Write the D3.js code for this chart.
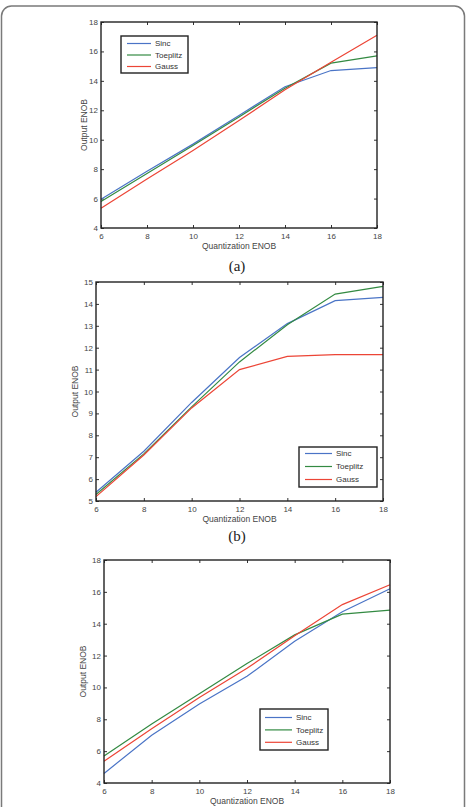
<!doctype html>
<html lang="en">
<head>
<meta charset="UTF-8">
<title>ENOB</title>
<script src="https://cdn.jsdelivr.net/npm/d3@7"></script>
<style>
  body { margin: 0; background: #fff; }
  svg { display: block; }
</style>
</head>
<body>
<script>
// shared x values
var enobIn = [6, 8, 10, 12, 14, 16, 18];
var seriesNames = ["Sinc", "Toeplitz", "Gauss"];
var colors = ["#4a74c6", "#338a42", "#ec4536"];

// panel (a)
var sincA = [5.95, 7.85, 9.7, 11.65, 13.6, 14.7, 14.9];
var toepA = [5.8, 7.7, 9.6, 11.55, 13.5, 15.2, 15.7];
var gaussA = [5.35, 7.33, 9.27, 11.3, 13.4, 15.27, 17.1];

// panel (b)
var sincB = [5.4, 7.27, 9.5, 11.55, 13.1, 14.15, 14.3];
var toepB = [5.3, 7.15, 9.3, 11.35, 13.05, 14.45, 14.8];
var gaussB = [5.2, 7.1, 9.25, 11.0, 11.6, 11.68, 11.68];

// panel (c)
var sincC = [4.6, 7.0, 8.96, 10.7, 12.9, 14.75, 16.2];
var toepC = [5.7, 7.7, 9.6, 11.5, 13.3, 14.6, 14.85];
var gaussC = [5.37, 7.4, 9.37, 11.2, 13.25, 15.2, 16.45];

var xTicks = [6, 8, 10, 12, 14, 16, 18];
var yTicksA = [4, 6, 8, 10, 12, 14, 16, 18];
var yTicksB = [5, 6, 7, 8, 9, 10, 11, 12, 13, 14, 15];
var yTicksC = [4, 6, 8, 10, 12, 14, 16, 18];

var W = 467, H = 807;
var svg = d3.select("body").append("svg").attr("width", W).attr("height", H);

// outer frame
svg.append("rect")
  .attr("x", 1.5).attr("y", 6).attr("width", 463).attr("height", 812)
  .attr("rx", 10)
  .attr("fill", "none").attr("stroke", "#7a7a7a").attr("stroke-width", 1.5);

var panels = [
  { left: 101, right: 377, top: 22, bottom: 228, ydom: [4, 18], yTicks: yTicksA,
    data: [sincA, toepA, gaussA], caption: "(a)", capY: 271, ylabX: 84,
    legend: { x: 121, y: 36, w: 67, h: 37, lineX0: 127, lineX1: 151, textX: 155, row0: 43.5, dy: 11.5 } },
  { left: 96, right: 383, top: 282, bottom: 501, ydom: [5, 15], yTicks: yTicksB,
    data: [sincB, toepB, gaussB], caption: "(b)", capY: 541, ylabX: 75,
    legend: { x: 299, y: 447, w: 78, h: 40, lineX0: 305, lineX1: 332, textX: 336, row0: 453.5, dy: 13 } },
  { left: 104, right: 390, top: 560, bottom: 783, ydom: [4, 18], yTicks: yTicksC,
    data: [sincC, toepC, gaussC], caption: null, capY: 0, ylabX: 83,
    legend: { x: 260, y: 709, w: 68, h: 41, lineX0: 265, lineX1: 292, textX: 296, row0: 717.5, dy: 12.4 } }
];

var font = "'Liberation Sans', Arial, sans-serif";
var serif = "'Liberation Serif', 'Times New Roman', serif";

panels.forEach(function(p) {
  var x = d3.scaleLinear().domain([6, 18]).range([p.left, p.right]);
  var y = d3.scaleLinear().domain(p.ydom).range([p.bottom, p.top]);
  var g = svg.append("g");

  // axes with inward ticks on all sides
  var bottomAx = d3.axisBottom(x).tickValues(xTicks).tickSizeInner(-3).tickSizeOuter(0).tickPadding(5);
  var topAx = d3.axisTop(x).tickValues(xTicks).tickSizeInner(-3).tickSizeOuter(0).tickFormat("");
  var leftAx = d3.axisLeft(y).tickValues(p.yTicks).tickSizeInner(-3).tickSizeOuter(0).tickPadding(3);
  var rightAx = d3.axisRight(y).tickValues(p.yTicks).tickSizeInner(-3).tickSizeOuter(0).tickFormat("");

  [[bottomAx, "translate(0," + p.bottom + ")"], [topAx, "translate(0," + p.top + ")"],
   [leftAx, "translate(" + p.left + ",0)"], [rightAx, "translate(" + p.right + ",0)"]].forEach(function(a) {
    var ax = g.append("g").attr("transform", a[1]).call(a[0]);
    ax.select(".domain").remove();
    ax.selectAll("line").attr("stroke", "#333").attr("stroke-width", 1);
    ax.selectAll("text").attr("fill", "#444").style("font-family", font).style("font-size", "8px");
  });

  // series lines
  var line = d3.line().x(function(d, i) { return x(enobIn[i]); }).y(function(d) { return y(d); });
  p.data.forEach(function(s, i) {
    g.append("path").datum(s)
      .attr("d", line)
      .attr("fill", "none")
      .attr("stroke", colors[i])
      .attr("stroke-width", 1.2);
  });

  // box
  g.append("rect")
    .attr("x", p.left).attr("y", p.top)
    .attr("width", p.right - p.left).attr("height", p.bottom - p.top)
    .attr("fill", "none").attr("stroke", "#222").attr("stroke-width", 1.4);

  // axis titles
  g.append("text")
    .attr("x", (p.left + p.right) / 2).attr("y", p.bottom + 21)
    .attr("text-anchor", "middle")
    .attr("fill", "#444").style("font-family", font).style("font-size", "8.5px")
    .text("Quantization ENOB");
  g.append("text")
    .attr("transform", "translate(" + p.ylabX + "," + ((p.top + p.bottom) / 2) + ") rotate(-90)")
    .attr("text-anchor", "middle").attr("dy", "0.35em")
    .attr("fill", "#444").style("font-family", font).style("font-size", "8.5px")
    .text("Output ENOB");

  // legend
  var L = p.legend;
  var lg = g.append("g");
  lg.append("rect")
    .attr("x", L.x).attr("y", L.y).attr("width", L.w).attr("height", L.h)
    .attr("fill", "#fff").attr("stroke", "#222").attr("stroke-width", 1.4);
  seriesNames.forEach(function(n, i) {
    var yy = L.row0 + i * L.dy;
    lg.append("line")
      .attr("x1", L.lineX0).attr("x2", L.lineX1).attr("y1", yy).attr("y2", yy)
      .attr("stroke", colors[i]).attr("stroke-width", 1.2);
    lg.append("text")
      .attr("x", L.textX).attr("y", yy).attr("dy", "0.35em")
      .attr("fill", "#333").style("font-family", font).style("font-size", "8px")
      .text(n);
  });

  // caption
  if (p.caption) {
    svg.append("text")
      .attr("x", 237).attr("y", p.capY)
      .attr("text-anchor", "middle")
      .attr("fill", "#222").style("font-family", serif).style("font-size", "15px")
      .text(p.caption);
  }
});
</script>
</body>
</html>
